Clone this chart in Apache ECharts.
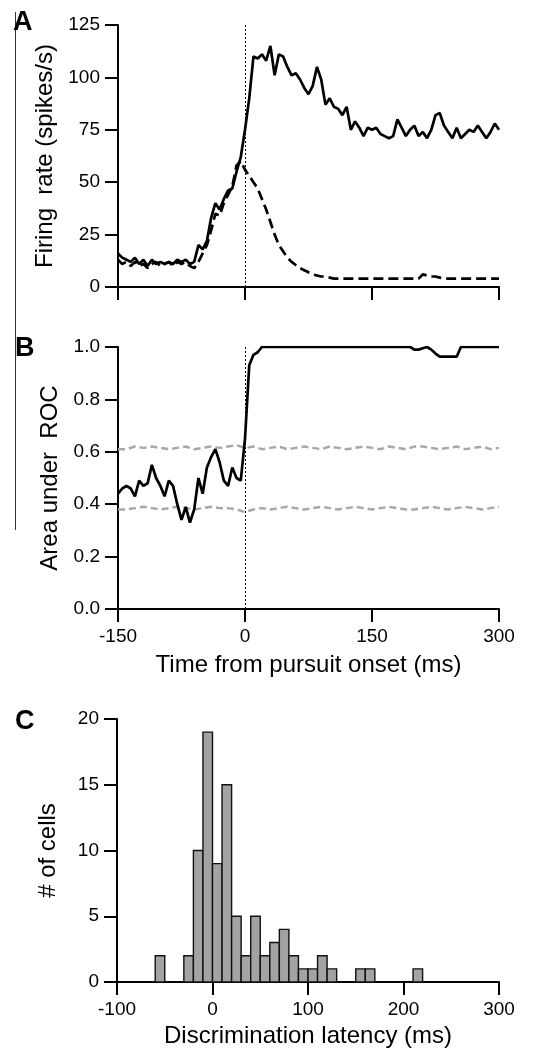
<!DOCTYPE html>
<html>
<head>
<meta charset="utf-8">
<script src="https://cdn.jsdelivr.net/npm/echarts@6/dist/echarts.min.js"></script>
<style>
  html, body { margin: 0; padding: 0; background: #fff; }
  #chart { width: 541px; height: 1051px; }
</style>
</head>
<body>
<div id="chart"></div>
<script>
// time samples (ms from pursuit onset)
var time5 = [-150,-145,-140,-135,-130,-125,-120,-115,-110,-105,-100,-95,-90,-85,-80,-75,-70,-65,-60,-55,-50,-45,-40,-35,-30,-25,-20,-15,-10,-5,
  0,5,10,15,20,25,30,35,40,45,50,55,60,65,70,75,80,85,90,95,100,105,110,115,120,125,130,135,140,145,
  150,155,160,165,170,175,180,185,190,195,200,205,210,215,220,225,230,235,240,245,250,255,260,265,270,275,280,285,290,295,300];
var time10 = [-150,-140,-130,-120,-110,-100,-90,-80,-70,-60,-50,-40,-30,-20,-10,0,10,20,30,40,50,60,70,80,90,100,
  110,120,130,140,150,160,170,180,190,200,210,220,230,240,250,260,270,280,290,300];

// panel A: firing rate (spikes/s)
var rateSolid = [16,14,13,12,14,11,13,10,13,11,12,11,12,11,13,12,13,11,12,20,18,22,33,40,37,42,46,47,55,62,
  75,90,110,109,111,108,115,101,111,110,105,101,102,99,95,92,96,105,99,87,90,86,85,82,86,75,79,76,72,76,
  75,76,73,72,71,72,80,76,72,75,77,72,74,71,75,82,83,77,74,71,76,71,73,75,74,77,74,71,74,78,75];
var rateDashed = [13,11,12,10,12,10,11,9,11,12,10,11,12,10,12,11,12,10,9,12,16,20,27,35,34,40,44,48,58,60,
  56,53,50,47,42,37,31,25,20,17,14,12,10.5,9,8,7,6,5.5,5,5,4.5,4,4,4,4,4,4,4,4,4,
  4,4,4,4,4,4,4,4,4,4,4,4,6,5.5,5,5,4.5,4,4,4,4,4,4,4,4,4,4,4,4,4,4];

// panel B: area under ROC
var aucSolid = [0.44,0.46,0.47,0.46,0.43,0.49,0.47,0.48,0.55,0.50,0.47,0.43,0.49,0.47,0.40,0.34,0.39,0.33,0.38,0.50,
  0.44,0.54,0.58,0.61,0.56,0.49,0.47,0.54,0.50,0.49,
  0.65,0.93,0.97,0.98,1,1,1,1,1,1,1,1,1,1,1,1,1,1,1,1,1,1,1,1,1,1,1,1,1,1,
  1,1,1,1,1,1,1,1,1,1,0.99,0.99,0.995,1,0.99,0.975,0.963,0.963,0.963,0.963,0.963,1,1,1,1,1,1,1,1,1,1];
var aucUpper = [0.61,0.61,0.62,0.615,0.62,0.615,0.61,0.615,0.62,0.61,0.615,0.62,0.615,0.62,0.625,0.615,0.62,0.61,0.615,0.62,
  0.61,0.615,0.62,0.615,0.61,0.62,0.615,0.61,0.615,0.62,0.615,0.61,0.62,0.615,0.61,0.62,0.62,0.615,0.61,0.615,
  0.62,0.61,0.615,0.62,0.61,0.615];
var aucLower = [0.38,0.38,0.385,0.39,0.385,0.38,0.385,0.39,0.385,0.38,0.385,0.39,0.385,0.385,0.38,0.37,0.38,0.385,0.38,0.385,
  0.39,0.385,0.38,0.385,0.39,0.385,0.38,0.385,0.39,0.385,0.38,0.385,0.39,0.385,0.38,0.38,0.385,0.39,0.385,0.38,
  0.385,0.39,0.385,0.38,0.385,0.39];

// panel C: histogram of discrimination latency (10 ms bins, left edges)
var binLeft = [-60,-30,-20,-10,0,10,20,30,40,50,60,70,80,90,100,110,120,150,160,210];
var binCount = [2,2,10,19,9,15,5,2,5,2,3,4,2,1,1,2,1,1,1,1];
var binWidth = 10;

function pairs(xs, ys) {
  return xs.map(function (x, i) { return [x, ys[i]]; });
}

var font = 'Liberation Sans, Arial, sans-serif';
var axisLine = { show: true, onZero: false, lineStyle: { color: '#000', width: 2 } };
var axisTick = { show: true, inside: false, length: 13, lineStyle: { color: '#000', width: 2 } };
var tickLabel = { color: '#000', fontSize: 19, fontFamily: font };
var nameStyle = { color: '#000', fontSize: 24, fontFamily: font };
var zeroLine = {
  silent: true,
  symbol: 'none',
  label: { show: false },
  lineStyle: { color: '#000', type: [2, 2], width: 1 },
  data: [{ xAxis: 0 }]
};

var myChart = echarts.init(document.getElementById('chart'), null, { renderer: 'canvas' });
myChart.setOption({
  backgroundColor: '#fff',
  animation: false,
  grid: [
    { left: 118, right: 42, top: 25, height: 262 },
    { left: 118, right: 42, top: 347, height: 262 },
    { left: 117, right: 42, top: 719, height: 263 }
  ],
  xAxis: [
    {
      gridIndex: 0, type: 'value', min: -150, max: 300, interval: 150,
      axisLine: axisLine, axisTick: axisTick, axisLabel: { show: false }, splitLine: { show: false }
    },
    {
      gridIndex: 1, type: 'value', min: -150, max: 300, interval: 150,
      axisLine: axisLine, axisTick: axisTick,
      axisLabel: Object.assign({ margin: 18 }, tickLabel),
      splitLine: { show: false },
      name: 'Time from pursuit onset (ms)', nameLocation: 'middle', nameGap: 44, nameTextStyle: nameStyle
    },
    {
      gridIndex: 2, type: 'value', min: -100, max: 300, interval: 100,
      axisLine: axisLine, axisTick: axisTick,
      axisLabel: Object.assign({ margin: 18 }, tickLabel),
      splitLine: { show: false },
      name: 'Discrimination latency (ms)', nameLocation: 'middle', nameGap: 42, nameTextStyle: nameStyle
    }
  ],
  yAxis: [
    {
      gridIndex: 0, type: 'value', min: 0, max: 125, interval: 25,
      axisLine: axisLine, axisTick: axisTick,
      axisLabel: Object.assign({ margin: 18 }, tickLabel),
      splitLine: { show: false },
      name: 'Firing  rate (spikes/s)', nameLocation: 'middle', nameGap: 52, nameTextStyle: nameStyle
    },
    {
      gridIndex: 1, type: 'value', min: 0, max: 1, interval: 0.2,
      axisLine: axisLine, axisTick: axisTick,
      axisLabel: Object.assign({ margin: 18, formatter: function (v) { return v.toFixed(1); } }, tickLabel),
      splitLine: { show: false },
      name: 'Area under  ROC', nameLocation: 'middle', nameGap: 56, nameTextStyle: nameStyle
    },
    {
      gridIndex: 2, type: 'value', min: 0, max: 20, interval: 5,
      axisLine: axisLine, axisTick: axisTick,
      axisLabel: Object.assign({ margin: 18 }, tickLabel),
      splitLine: { show: false },
      name: '# of cells', nameLocation: 'middle', nameGap: 57, nameTextStyle: nameStyle
    }
  ],
  series: [
    {
      type: 'line', xAxisIndex: 0, yAxisIndex: 0, showSymbol: false,
      data: pairs(time5, rateDashed),
      lineStyle: { color: '#000', width: 2.7, type: [10, 5] }
    },
    {
      type: 'line', xAxisIndex: 0, yAxisIndex: 0, showSymbol: false,
      data: pairs(time5, rateSolid),
      lineStyle: { color: '#000', width: 2.7 },
      markLine: zeroLine
    },
    {
      type: 'line', xAxisIndex: 1, yAxisIndex: 1, showSymbol: false,
      data: pairs(time10, aucUpper),
      lineStyle: { color: '#a8a8a8', width: 2.5, type: [7, 4] }
    },
    {
      type: 'line', xAxisIndex: 1, yAxisIndex: 1, showSymbol: false,
      data: pairs(time10, aucLower),
      lineStyle: { color: '#a8a8a8', width: 2.5, type: [7, 4] }
    },
    {
      type: 'line', xAxisIndex: 1, yAxisIndex: 1, showSymbol: false,
      data: pairs(time5, aucSolid),
      lineStyle: { color: '#000', width: 2.7 },
      markLine: zeroLine
    },
    {
      type: 'custom', xAxisIndex: 2, yAxisIndex: 2,
      encode: { x: [0, 1], y: 2 },
      data: binLeft.map(function (b, i) { return [b, b + binWidth, binCount[i]]; }),
      renderItem: function (params, api) {
        var p0 = api.coord([api.value(0), api.value(2)]);
        var p1 = api.coord([api.value(1), 0]);
        return {
          type: 'rect',
          shape: { x: p0[0], y: p0[1], width: p1[0] - p0[0], height: p1[1] - p0[1] },
          style: { fill: '#a3a3a3', stroke: '#111', lineWidth: 1.4 }
        };
      }
    }
  ],
  graphic: [
    { type: 'line', shape: { x1: 15.5, y1: 12, x2: 15.5, y2: 530 }, style: { stroke: '#333', lineWidth: 1 } },
    { type: 'text', left: 13, top: 9, style: { text: 'A', font: 'bold 27px ' + font, fill: '#000' } },
    { type: 'text', left: 15, top: 335, style: { text: 'B', font: 'bold 27px ' + font, fill: '#000' } },
    { type: 'text', left: 15, top: 708, style: { text: 'C', font: 'bold 27px ' + font, fill: '#000' } }
  ]
});
window.addEventListener('resize', function () {
  myChart.resize();
});
</script>
</body>
</html>
